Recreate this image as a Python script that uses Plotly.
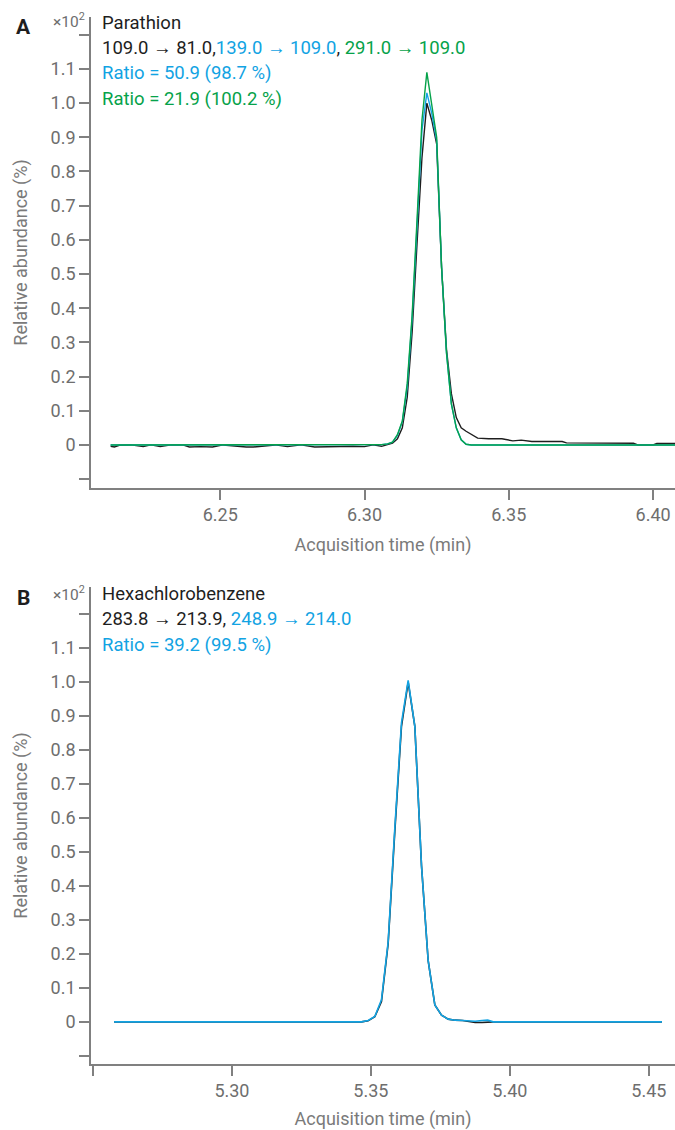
import plotly.graph_objects as go

# colours used in the chromatograms
BLACK = '#1e1e1e'
BLUE = '#12a3e3'
GREEN = '#06a24a'
GRAY = '#6e6e6e'

# ---- panel A : Parathion ----
time_a_black = [6.2120, 6.2133, 6.2150, 6.2190, 6.2233, 6.2260, 6.2292, 6.2330,
                6.2370, 6.2393, 6.2430, 6.2473, 6.2510, 6.2550, 6.2590, 6.2615,
                6.2650, 6.2690, 6.2733, 6.2780, 6.2827, 6.2870, 6.2917, 6.2960,
                6.3000, 6.3030, 6.3059, 6.3080, 6.3097, 6.3114, 6.3131, 6.3148,
                6.3165, 6.3182, 6.3199, 6.3216, 6.3233, 6.3250, 6.3267, 6.3284,
                6.3301, 6.3318, 6.3335, 6.3352, 6.3370, 6.3392, 6.3430, 6.3476,
                6.3514, 6.3543, 6.3580, 6.3630, 6.3685, 6.3700, 6.3800, 6.3932,
                6.3947, 6.4000, 6.4013, 6.4076]
abund_a_black = [-0.004, -0.006, -0.001, 0.000, -0.005, 0.000, -0.005, 0.000,
                 0.000, -0.006, -0.005, -0.006, 0.000, -0.004, -0.006, -0.006,
                 -0.004, 0.000, -0.005, 0.000, -0.006, -0.005, -0.006, -0.004,
                 -0.005, 0.000, -0.004, 0.002, 0.005, 0.018, 0.050, 0.140,
                 0.330, 0.590, 0.840, 1.000, 0.950, 0.880, 0.520, 0.280,
                 0.150, 0.080, 0.050, 0.040, 0.030, 0.020, 0.018, 0.018,
                 0.012, 0.014, 0.010, 0.010, 0.010, 0.006, 0.006, 0.005,
                 0.000, 0.000, 0.004, 0.004]

time_a_qual = [6.2120, 6.3000, 6.3059, 6.3080, 6.3097, 6.3114, 6.3131, 6.3148,
               6.3165, 6.3182, 6.3199, 6.3216, 6.3233, 6.3250, 6.3267, 6.3284,
               6.3301, 6.3318, 6.3335, 6.3352, 6.3370, 6.4076]
abund_a_blue = [0, 0, 0.001, 0.003, 0.008, 0.028, 0.068, 0.170,
                0.370, 0.640, 0.920, 1.030, 0.970, 0.890, 0.520, 0.270,
                0.120, 0.050, 0.015, 0.002, 0, 0]
abund_a_green = [0, 0, 0.001, 0.003, 0.008, 0.030, 0.070, 0.180,
                 0.380, 0.660, 0.950, 1.090, 1.000, 0.900, 0.520, 0.270,
                 0.120, 0.050, 0.015, 0.002, 0, 0]

# ---- panel B : Hexachlorobenzene ----
time_b = [5.2576, 5.3442, 5.3466, 5.3490, 5.3514, 5.3538, 5.3562, 5.3586,
          5.3610, 5.3634, 5.3658, 5.3682, 5.3706, 5.3730, 5.3754, 5.3778,
          5.3802, 5.3830, 5.3855, 5.3875, 5.3900, 5.3920, 5.3940, 5.4547]
abund_b_black = [0, 0, 0.000, 0.003, 0.015, 0.060, 0.230, 0.560,
                 0.870, 1.000, 0.870, 0.460, 0.180, 0.050, 0.020, 0.008,
                 0.005, 0.004, 0.000, -0.002, -0.002, 0.000, 0, 0]
abund_b_blue = [0, 0, 0.000, 0.004, 0.016, 0.065, 0.235, 0.570,
                0.880, 1.005, 0.870, 0.460, 0.180, 0.050, 0.020, 0.008,
                0.005, 0.004, 0.003, 0.002, 0.004, 0.005, 0, 0]

x_ticks_a = [6.25, 6.30, 6.35, 6.40]
x_ticks_b = [5.25, 5.30, 5.35, 5.40, 5.45]
y_ticks = [-0.1, 0, 0.1, 0.2, 0.3, 0.4, 0.5, 0.6, 0.7, 0.8, 0.9, 1.0, 1.1, 1.2]
y_labels = ['', '0', '0.1', '0.2', '0.3', '0.4', '0.5', '0.6', '0.7', '0.8',
            '0.9', '1.0', '1.1', '']

W, H = 675, 1130

fig = go.Figure()
fig.add_trace(go.Scatter(x=time_a_black, y=abund_a_black, mode='lines',
                         line=dict(color=BLACK, width=1.4), xaxis='x', yaxis='y'))
fig.add_trace(go.Scatter(x=time_a_qual, y=abund_a_blue, mode='lines',
                         line=dict(color=BLUE, width=1.4), xaxis='x', yaxis='y'))
fig.add_trace(go.Scatter(x=time_a_qual, y=abund_a_green, mode='lines',
                         line=dict(color=GREEN, width=1.4), xaxis='x', yaxis='y'))
fig.add_trace(go.Scatter(x=time_b, y=abund_b_black, mode='lines',
                         line=dict(color=BLACK, width=1.6), xaxis='x2', yaxis='y2'))
fig.add_trace(go.Scatter(x=time_b, y=abund_b_blue, mode='lines',
                         line=dict(color=BLUE, width=1.6), xaxis='x2', yaxis='y2'))

tick_font = dict(family='Roboto', size=18, color=GRAY)
title_font = dict(family='Roboto', size=18, color='#7a7a7a')


def xaxis_style(rng, vals, labels, anchor):
    return dict(domain=[91 / W, 1], anchor=anchor, range=rng,
                tickvals=vals, ticktext=labels, ticks='outside', ticklen=10,
                tickwidth=1.5, tickcolor='#808080', showline=True,
                linecolor='#808080', linewidth=1.6, showgrid=False,
                zeroline=False, tickfont=tick_font, automargin=False,
                title=dict(text='Acquisition time (min)', font=title_font,
                           standoff=14))


def yaxis_style(dom, rng, anchor):
    return dict(domain=dom, anchor=anchor, range=rng, tickvals=y_ticks,
                ticktext=y_labels, ticks='outside', ticklen=10, tickwidth=1.5,
                tickcolor='#808080', showline=True, linecolor='#808080',
                linewidth=1.6, showgrid=False, zeroline=False,
                tickfont=tick_font, automargin=False,
                title=dict(text='Relative abundance (%)', font=title_font,
                           standoff=18))


fig.update_layout(
    width=W, height=H, autosize=False, showlegend=False,
    margin=dict(l=0, r=0, t=0, b=0),
    paper_bgcolor='white', plot_bgcolor='white',
    xaxis=xaxis_style([6.2052, 6.4076], x_ticks_a,
                      ['6.25', '6.30', '6.35', '6.40'], 'y'),
    yaxis=yaxis_style([1 - 488 / H, 1 - 17 / H], [-0.126, 1.252], 'x'),
    xaxis2=xaxis_style([5.2493, 5.4594], x_ticks_b,
                       ['', '5.30', '5.35', '5.40', '5.45'], 'y2'),
    yaxis2=yaxis_style([1 - 1064 / H, 1 - 587 / H], [-0.124, 1.28], 'x2'),
)


def text_at(px, py, txt, size=18.5, color=BLACK, anchor='left'):
    fig.add_annotation(x=px / W, y=1 - py / H, xref='paper', yref='paper',
                       text=txt, showarrow=False, xanchor=anchor,
                       yanchor='middle', font=dict(family='Roboto', size=size,
                                                   color=color))


def sp(txt, color):
    return f'<span style="color:{color}">{txt}</span>'


# panel A labels
text_at(23, 27, '<b>A</b>', size=21, anchor='center')
text_at(87, 20, '×10<sup>2</sup>', size=15.5, color=GRAY, anchor='right')
text_at(100, 23, 'Parathion')
text_at(100, 48, '109.0 → 81.0,' + sp('139.0 → 109.0', BLUE) + ', '
        + sp('291.0 → 109.0', GREEN))
text_at(100, 73, 'Ratio = 50.9 (98.7 %)', color=BLUE)
text_at(100, 99, 'Ratio = 21.9 (100.2 %)', color=GREEN)

# panel B labels
text_at(23, 598, '<b>B</b>', size=21, anchor='center')
text_at(87, 593, '×10<sup>2</sup>', size=15.5, color=GRAY, anchor='right')
text_at(100, 594, 'Hexachlorobenzene')
text_at(100, 619, '283.8 → 213.9, ' + sp('248.9 → 214.0', BLUE))
text_at(100, 645, 'Ratio = 39.2 (99.5 %)', color=BLUE)

# page body has a default 8px margin; drop it so the figure sits at 0,0
fig.write_html('out.html', config={'displayModeBar': False},
               post_script="document.body.style.margin='0px';")
